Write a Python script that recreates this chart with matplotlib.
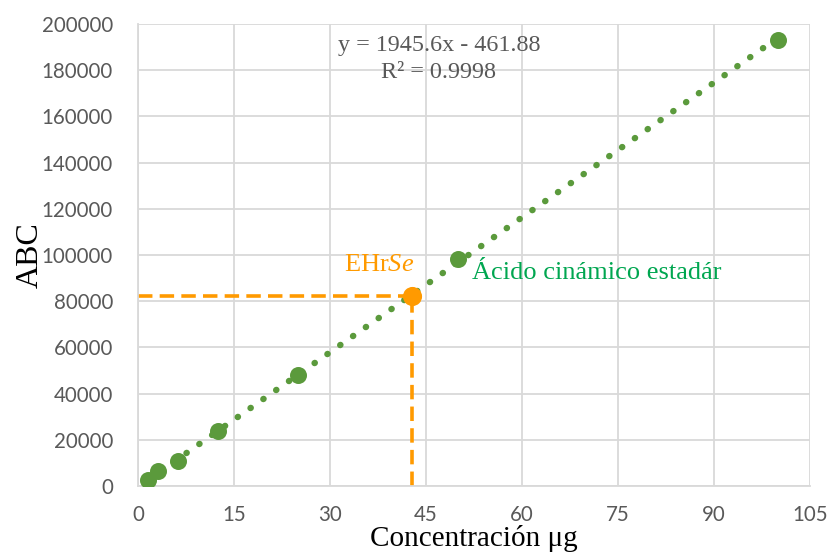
import numpy as np
import matplotlib
matplotlib.use("Agg")
import matplotlib.pyplot as plt

# Calibration standard (cinnamic acid)
conc = [1.5625, 3.125, 6.25, 12.5, 25, 50, 100]
area = [2700, 6300, 10800, 24000, 48000, 98200, 193000]

# Sample
sample_conc = 42.8
sample_area = 82250

slope = 1945.6
intercept = -461.88
r2 = 0.9998

xticks = [0, 15, 30, 45, 60, 75, 90, 105]
yticks = list(range(0, 200001, 20000))

green = "#5b9a3c"
orange = "#ff9a00"
label_green = "#00a650"
grey_txt = "#595959"
grid_c = "#d9d9d9"

serif = "Liberation Serif"
plt.rcParams["mathtext.fontset"] = "custom"
plt.rcParams["mathtext.rm"] = "Liberation Serif"
plt.rcParams["mathtext.it"] = "Liberation Serif:italic"

fig = plt.figure(figsize=(8.28, 5.53), dpi=100)
ax = fig.add_axes([0.1667, 0.1212, 0.8116, 0.8354])

ax.set_xlim(0, 105)
ax.set_ylim(0, 200000)
ax.set_xticks(xticks)
ax.set_yticks(yticks)
ax.grid(True, color=grid_c, linewidth=1.3)
ax.set_axisbelow(True)
for s in ["top", "right"]:
    ax.spines[s].set_visible(False)
for s in ["left", "bottom"]:
    ax.spines[s].set_color(grid_c)
    ax.spines[s].set_linewidth(1.3)
ax.tick_params(length=0, labelsize=14.8, labelcolor=grey_txt)
ax.tick_params(axis="y", pad=18)
ax.tick_params(axis="x", pad=14)
for lab in ax.get_xticklabels() + ax.get_yticklabels():
    lab.set_fontfamily("Lato")

# Linear fit (dotted trendline)
xf = np.array([min(conc), max(conc)])
ax.plot(xf, slope * xf + intercept, color=green, linewidth=4.6,
        linestyle=(0, (0.05, 2.4)), dash_capstyle="round", zorder=2)

ax.scatter(conc, area, s=150, color=green, zorder=3, linewidths=0)

# Sample projection lines
ax.plot([0, sample_conc], [sample_area, sample_area], color=orange,
        linewidth=2.6, linestyle=(0, (4, 2)), zorder=2)
ax.plot([sample_conc, sample_conc], [0, sample_area], color=orange,
        linewidth=2.6, linestyle=(0, (4, 2)), zorder=2)
ax.scatter([sample_conc], [sample_area], s=190, color=orange, zorder=4, linewidths=0)

ax.text(47.0, 190500, "y = 1945.6x - 461.88", ha="center", va="center",
        fontsize=17.4, family=serif, color=grey_txt)
ax.text(47.0, 179000, "R² = 0.9998", ha="center", va="center",
        fontsize=17.4, family=serif, color=grey_txt)

ax.text(32.2, 95500, r"EHr$\mathit{Se}$", ha="left", va="center",
        fontsize=19, family=serif, color=orange)
ax.text(52.2, 92000, "Ácido cinámico estadár", ha="left", va="center",
        fontsize=19, family=serif, color=label_green)

ax.set_xlabel("Concentración μg", fontsize=21, family=serif, color="black", labelpad=0)
ax.set_ylabel("ABC", fontsize=23, family=serif, color="black", labelpad=-2)

fig.savefig("out.png", dpi=100)
